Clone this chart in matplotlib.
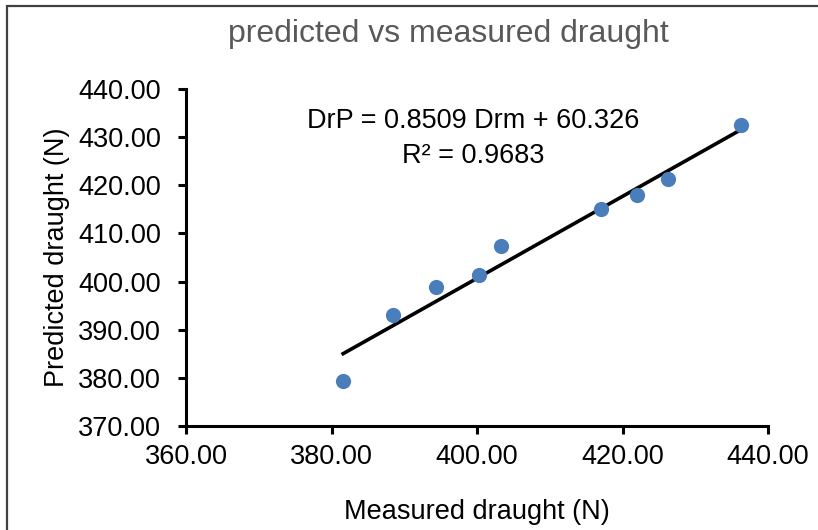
import matplotlib
matplotlib.use("Agg")
import matplotlib.pyplot as plt
from matplotlib.ticker import FormatStrFormatter
from matplotlib.patches import Rectangle
import numpy as np

# data
measured = [381.6, 388.4, 394.4, 400.3, 403.3, 417.1, 422.0, 426.3, 436.3]
predicted = [379.3, 393.0, 398.8, 401.3, 407.4, 415.1, 418.0, 421.4, 432.5]
slope = 0.8509
intercept = 60.326
r2 = 0.9683
x_ticks = [360, 380, 400, 420, 440]
y_ticks = [370, 380, 390, 400, 410, 420, 430, 440]

plt.rcParams['font.family'] = ['Liberation Sans', 'DejaVu Sans']

fig = plt.figure(figsize=(8.18, 5.3), dpi=100)
ax = fig.add_axes([0.2274, 0.1962, 0.7115, 0.6358])

ax.scatter(measured, predicted, s=120, color='#4a7ebb', zorder=3, linewidths=0)
xs = np.array([min(measured), max(measured)])
ax.plot(xs, slope * xs + intercept, color='black', lw=2.6, zorder=2)

ax.set_xlim(360, 440)
ax.set_ylim(370, 440)
ax.set_xticks(x_ticks)
ax.set_yticks(y_ticks)
ax.xaxis.set_major_formatter(FormatStrFormatter('%.2f'))
ax.yaxis.set_major_formatter(FormatStrFormatter('%.2f'))
for side in ['top', 'right']:
    ax.spines[side].set_visible(False)
for side in ['left', 'bottom']:
    ax.spines[side].set_linewidth(2.2)
ax.tick_params(axis='both', direction='out', length=6, width=2.2, labelsize=19.5, colors='black')
ax.tick_params(axis='x', pad=7)
ax.tick_params(axis='y', pad=12)

ax.set_xlabel('Measured draught (N)', fontsize=19.5, labelpad=21)
ax.set_ylabel('Predicted draught (N)', fontsize=19.5, labelpad=6)

ax.text(0.493, 0.945, 'DrP = %.4f Drm + %.3f\nR² = %.4f' % (slope, intercept, r2),
        transform=ax.transAxes, ha='center', va='top', fontsize=19.5, linespacing=1.45)

fig.text(0.5477, 0.9208, 'predicted vs measured draught', ha='center', va='baseline',
         fontsize=23, color='#595959')

# chart area border
fig.patches.append(Rectangle((7 / 818, -0.1), 1.2, 1 - 6 / 530 + 0.1, transform=fig.transFigure,
                             fill=False, edgecolor='#404040', lw=1.6))

fig.savefig('out.png', dpi=100)
